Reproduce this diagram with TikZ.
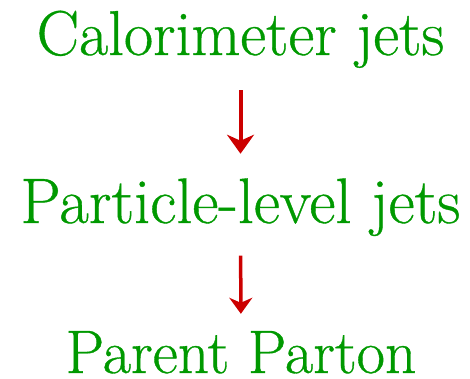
\documentclass[tikz,border=0pt]{standalone}
\usepackage{fontspec}
\newfontfamily\lmr{Latin Modern Roman}[FakeBold=0.6]
\usetikzlibrary{arrows.meta}
\definecolor{jetgreen}{RGB}{0,153,0}
\definecolor{arrred}{RGB}{204,0,0}
\begin{document}
\begin{tikzpicture}[x=1pt,y=-1pt,
  lbl/.style={anchor=base, inner sep=0pt, text=jetgreen, font=\lmr\fontsize{61.5}{74}\selectfont},
  arrA/.style={draw=arrred, line width=4pt, -{Stealth[length=19pt,width=27pt,inset=6pt]}},
  arrB/.style={draw=arrred, line width=3.5pt, -{Stealth[length=16pt,width=23pt,inset=5pt]}}]
\useasboundingbox (0,0) rectangle (470,379);
\node[lbl, font=\lmr\fontsize{63.4}{76}\selectfont] (a) at (240.5,55) {Calorimeter jets};
\node[lbl, font=\lmr\fontsize{64.2}{77}\selectfont] (b) at (240.5,223) {Particle-level jets};
\node[lbl] (c) at (241,373) {Parent Parton};
\draw[arrA, shorten <=22pt, shorten >=24.5pt] (a) -- (b);
\draw[arrB, shorten <=19.5pt, shorten >=17pt] (b) -- (c);
\end{tikzpicture}
\end{document}
